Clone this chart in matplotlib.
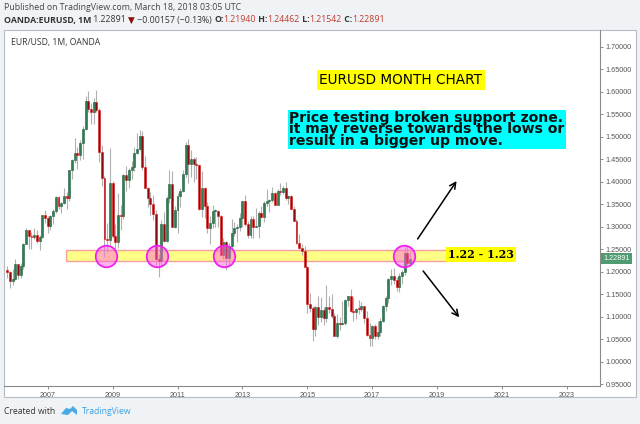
import matplotlib
matplotlib.use('Agg')
import matplotlib.pyplot as plt
import matplotlib.transforms as mtrans
from matplotlib.patches import Rectangle, Polygon
import numpy as np

# monthly EUR/USD candles, Oct 2005 .. Mar 2018
start_year, start_month = 2005, 10
opens = [1.203, 1.199, 1.179,
         1.184, 1.216, 1.192, 1.212, 1.262, 1.292, 1.279, 1.276, 1.281, 1.268, 1.276, 1.325,
         1.320, 1.301, 1.323, 1.335, 1.365, 1.345, 1.353, 1.369, 1.363, 1.427, 1.449, 1.463,
         1.459, 1.486, 1.518, 1.579, 1.561, 1.555, 1.576, 1.560, 1.467, 1.409, 1.273, 1.270,
         1.397, 1.280, 1.267, 1.325, 1.323, 1.415, 1.403, 1.425, 1.433, 1.464, 1.472, 1.501,
         1.433, 1.386, 1.363, 1.351, 1.329, 1.229, 1.223, 1.305, 1.268, 1.363, 1.394, 1.299,
         1.338, 1.369, 1.380, 1.416, 1.481, 1.439, 1.450, 1.439, 1.436, 1.339, 1.385, 1.345,
         1.296, 1.308, 1.334, 1.334, 1.323, 1.237, 1.266, 1.230, 1.257, 1.286, 1.297, 1.299,
         1.319, 1.357, 1.306, 1.282, 1.317, 1.300, 1.301, 1.330, 1.322, 1.352, 1.358, 1.359,
         1.374, 1.349, 1.380, 1.377, 1.387, 1.363, 1.369, 1.339, 1.313, 1.263, 1.253, 1.245,
         1.210, 1.129, 1.119, 1.073, 1.122, 1.099, 1.115, 1.098, 1.121, 1.118, 1.101, 1.057,
         1.086, 1.083, 1.087, 1.138, 1.145, 1.113, 1.110, 1.117, 1.116, 1.124, 1.098, 1.059,
         1.052, 1.080, 1.058, 1.065, 1.090, 1.124, 1.142, 1.184, 1.191, 1.181, 1.165, 1.190,
         1.200, 1.241, 1.2194]
highs = [1.213, 1.201, 1.205,
         1.229, 1.217, 1.220, 1.264, 1.298, 1.293, 1.288, 1.298, 1.292, 1.282, 1.327, 1.336,
         1.324, 1.325, 1.340, 1.368, 1.368, 1.355, 1.385, 1.377, 1.427, 1.450, 1.497, 1.477,
         1.493, 1.524, 1.591, 1.602, 1.575, 1.586, 1.604, 1.563, 1.481, 1.412, 1.308, 1.475,
         1.402, 1.306, 1.374, 1.349, 1.417, 1.434, 1.431, 1.446, 1.478, 1.509, 1.514, 1.512,
         1.458, 1.388, 1.376, 1.370, 1.338, 1.240, 1.315, 1.333, 1.368, 1.425, 1.423, 1.345,
         1.375, 1.386, 1.425, 1.488, 1.494, 1.470, 1.454, 1.454, 1.439, 1.424, 1.388, 1.355,
         1.323, 1.349, 1.339, 1.336, 1.327, 1.274, 1.268, 1.264, 1.317, 1.310, 1.307, 1.331,
         1.358, 1.371, 1.313, 1.324, 1.324, 1.342, 1.334, 1.345, 1.357, 1.383, 1.361, 1.389,
         1.377, 1.383, 1.397, 1.390, 1.399, 1.370, 1.370, 1.345, 1.316, 1.284, 1.261, 1.257,
         1.212, 1.153, 1.124, 1.123, 1.147, 1.144, 1.121, 1.171, 1.146, 1.150, 1.109, 1.106,
         1.100, 1.135, 1.140, 1.146, 1.162, 1.143, 1.119, 1.137, 1.133, 1.124, 1.112, 1.087,
         1.082, 1.083, 1.091, 1.096, 1.127, 1.145, 1.185, 1.207, 1.209, 1.188, 1.196, 1.203,
         1.254, 1.256, 1.2446]
lows = [1.187, 1.164, 1.170,
        1.182, 1.184, 1.187, 1.205, 1.262, 1.250, 1.250, 1.272, 1.264, 1.248, 1.274, 1.309,
        1.285, 1.293, 1.306, 1.331, 1.340, 1.331, 1.350, 1.339, 1.357, 1.405, 1.442, 1.428,
        1.449, 1.451, 1.514, 1.555, 1.528, 1.529, 1.555, 1.443, 1.390, 1.233, 1.243, 1.259,
        1.274, 1.247, 1.253, 1.292, 1.317, 1.380, 1.385, 1.405, 1.424, 1.461, 1.471, 1.425,
        1.386, 1.343, 1.327, 1.314, 1.212, 1.188, 1.212, 1.265, 1.265, 1.353, 1.299, 1.296,
        1.287, 1.343, 1.378, 1.411, 1.397, 1.410, 1.400, 1.405, 1.337, 1.322, 1.319, 1.286,
        1.262, 1.297, 1.300, 1.300, 1.235, 1.229, 1.204, 1.214, 1.252, 1.280, 1.267, 1.291,
        1.300, 1.301, 1.275, 1.274, 1.275, 1.300, 1.275, 1.320, 1.311, 1.347, 1.333, 1.354,
        1.348, 1.350, 1.371, 1.372, 1.360, 1.350, 1.339, 1.313, 1.262, 1.250, 1.236, 1.210,
        1.109, 1.110, 1.046, 1.056, 1.081, 1.088, 1.081, 1.088, 1.109, 1.096, 1.056, 1.052,
        1.071, 1.081, 1.081, 1.124, 1.110, 1.091, 1.095, 1.107, 1.112, 1.085, 1.057, 1.035,
        1.034, 1.050, 1.050, 1.057, 1.088, 1.112, 1.131, 1.170, 1.172, 1.157, 1.155, 1.172,
        1.192, 1.215, 1.2154]
closes = [1.199, 1.179, 1.184,
          1.216, 1.192, 1.212, 1.262, 1.292, 1.279, 1.276, 1.281, 1.268, 1.276, 1.325, 1.320,
          1.301, 1.323, 1.335, 1.365, 1.345, 1.353, 1.369, 1.363, 1.427, 1.449, 1.463, 1.459,
          1.486, 1.518, 1.579, 1.561, 1.555, 1.576, 1.560, 1.467, 1.409, 1.273, 1.270, 1.397,
          1.280, 1.267, 1.325, 1.323, 1.415, 1.403, 1.425, 1.433, 1.464, 1.472, 1.501, 1.433,
          1.386, 1.363, 1.351, 1.329, 1.229, 1.223, 1.305, 1.268, 1.363, 1.394, 1.299, 1.338,
          1.369, 1.380, 1.416, 1.481, 1.439, 1.450, 1.439, 1.436, 1.339, 1.385, 1.345, 1.296,
          1.308, 1.334, 1.334, 1.323, 1.237, 1.266, 1.230, 1.257, 1.286, 1.297, 1.299, 1.319,
          1.357, 1.306, 1.282, 1.317, 1.300, 1.301, 1.330, 1.322, 1.352, 1.358, 1.359, 1.374,
          1.349, 1.380, 1.377, 1.387, 1.363, 1.369, 1.339, 1.313, 1.263, 1.253, 1.245, 1.210,
          1.129, 1.119, 1.073, 1.122, 1.099, 1.115, 1.098, 1.121, 1.118, 1.101, 1.057, 1.086,
          1.083, 1.087, 1.138, 1.145, 1.113, 1.110, 1.117, 1.116, 1.124, 1.098, 1.059, 1.052,
          1.080, 1.058, 1.065, 1.090, 1.124, 1.142, 1.184, 1.191, 1.181, 1.165, 1.190, 1.200,
          1.241, 1.219, 1.22891]

last_price = 1.22891
price_ticks = [0.95, 1.00, 1.05, 1.10, 1.15, 1.20, 1.25, 1.30, 1.35, 1.40,
               1.45, 1.50, 1.55, 1.60, 1.65, 1.70]
year_ticks = [2007, 2009, 2011, 2013, 2015, 2017, 2019, 2021, 2023]

# support zone and touches (decimal year, price)
zone_low, zone_high = 1.2245, 1.2475
zone_start, zone_end = 2007.55, 2019.29
touch_x = [2008.79, 2010.38, 2012.42, 2017.98]
touch_y = [1.2356, 1.2356, 1.2356, 1.2356]
arrow_up = [(2018.40, 1.2727), (2019.60, 1.4015)]
arrow_down = [(2018.57, 1.2016), (2019.68, 1.0987)]

W, H = 640, 424
fig = plt.figure(figsize=(6.4, 4.24), dpi=100)
fig.patch.set_facecolor('#f0f3f6')

# white chart panel behind the axes
panel = Rectangle((4 / W, 1 - 397 / H), 632 / W, 367 / H, transform=fig.transFigure,
                  facecolor='white', edgecolor='#b8bcc2', linewidth=0.8, zorder=-5)
fig.add_artist(panel)

ax = fig.add_axes([4 / W, 1 - 386 / H, 596 / W, 356 / H])
ax.set_zorder(2)
ax.set_facecolor('none')

n = len(closes)
xs = np.array([start_year + (start_month - 1 + i) / 12.0 for i in range(n)])
o = np.array(opens); h = np.array(highs); l = np.array(lows); c = np.array(closes)
up = c >= o

ax.vlines(xs, l, h, color='#b0b0b0', linewidth=0.8, zorder=2)
body = np.where(np.abs(c - o) < 0.002, 0.002, c - o)
ax.bar(xs[up], body[up], bottom=o[up], width=0.06, color='#2f7d55',
       edgecolor='#1d5e3b', linewidth=0.4, zorder=3)
ax.bar(xs[~up], body[~up], bottom=o[~up], width=0.06, color='#8b0a0a',
       edgecolor='#e01818', linewidth=0.4, zorder=3)

# support zone
ax.add_patch(Rectangle((zone_start, zone_low), zone_end - zone_start, zone_high - zone_low,
                       facecolor='#ffff88', edgecolor='#f5a0a0', linewidth=1.0, zorder=1))
ax.plot(touch_x, touch_y, 'o', markersize=15.5, markerfacecolor=(1.0, 0.4, 0.85, 0.5),
        markeredgecolor='#f020f0', markeredgewidth=1.3, zorder=5)

for (x0, y0), (x1, y1) in [arrow_up, arrow_down]:
    ax.annotate('', xy=(x1, y1), xytext=(x0, y0),
                arrowprops=dict(arrowstyle='->', color='black', lw=1.1,
                                mutation_scale=11, shrinkA=0, shrinkB=0), zorder=6)

ax.text(2019.33, 1.238, '1.22 - 1.23', fontsize=8.0, fontweight='bold', family='DejaVu Serif',
        ha='left', va='center', zorder=7,
        bbox=dict(boxstyle='square,pad=0.2', facecolor='#ffff00', edgecolor='none'))
ax.text(2017.887, 1.6258, 'EURUSD MONTH CHART', fontsize=9.8, family='DejaVu Sans',
        ha='center', va='center', zorder=7,
        bbox=dict(boxstyle='square,pad=0.2', facecolor='#ffff00', edgecolor='none'))
ax.text(2014.45, 1.516,
        'Price testing broken support zone.\nit may reverse towards the lows or\nresult in a bigger up move.',
        fontsize=10.05, fontweight='bold', family='DejaVu Sans', linespacing=0.78,
        ha='left', va='center', color='#111111', zorder=7,
        bbox=dict(boxstyle='square,pad=0.08', facecolor='#00ffff', edgecolor='none'))

ax.set_xlim(2005.653, 2024.02)
ax.set_ylim(0.946, 1.7371)
ax.yaxis.tick_right()
ax.set_yticks(price_ticks)
ax.set_yticklabels(['%.5f' % p for p in price_ticks])
ax.set_xticks(year_ticks)
ax.set_xticklabels([str(y) for y in year_ticks])
ax.tick_params(axis='both', labelsize=5.2, colors='#7a7a7a', labelcolor='#555555',
               length=2.5, width=0.6, pad=1.5)
for lab in ax.get_xticklabels() + ax.get_yticklabels():
    lab.set_family('Liberation Sans')
for side in ['top', 'left']:
    ax.spines[side].set_visible(False)
for side in ['right', 'bottom']:
    ax.spines[side].set_color('#8a8a8a')
    ax.spines[side].set_linewidth(0.8)

# last price tag
tr = mtrans.blended_transform_factory(ax.transAxes, ax.transData)
ax.text(1.006, last_price, '%.5f' % last_price, transform=tr, fontsize=5.2, color='white',
        family='Liberation Sans', ha='left', va='center', zorder=8, clip_on=False,
        bbox=dict(boxstyle='square,pad=0.3', facecolor='#4f9b72', edgecolor='none'))

ax.text(0.011, 0.965, 'EUR/USD, 1M, OANDA', transform=ax.transAxes, fontsize=6.2,
        family='Open Sans', color='#333333', ha='left', va='center')

# header lines
renderer = fig.canvas.get_renderer()


def draw_parts(x_px, y_px, parts, size):
    x = x_px
    for txt, color, weight in parts:
        t = fig.text(x / W, 1 - y_px / H, txt, fontsize=size, color=color, fontweight=weight,
                     family=['Open Sans', 'DejaVu Sans'], ha='left', va='center')
        x += t.get_window_extent(renderer).width


dark = '#333333'
red = '#c0392b'
draw_parts(4, 7.3, [('Published on TradingView.com, March 18, 2018 03:05 UTC', '#444444', 'normal')], 6.3)
draw_parts(4, 20, [('OANDA:EURUSD, 1M', dark, 'bold'), (' 1.22891 ', dark, 'normal'),
                   ('\u25bc', '#8b0a0a', 'normal'), (' \u22120.00157 (\u22120.13%) ', dark, 'normal'),
                   ('O:', dark, 'bold'), ('1.21940', red, 'normal'),
                   (' H:', dark, 'bold'), ('1.24462', red, 'normal'),
                   (' L:', dark, 'bold'), ('1.21542', red, 'normal'),
                   (' C:', dark, 'bold'), ('1.22891', red, 'normal')], 6.3)

# footer
fig.text(4 / W, 1 - 412 / H, 'Created with', fontsize=6.2, family='Open Sans', color='#333333',
         ha='left', va='center')
fig.add_artist(Polygon([(61 / W, 1 - 414 / H), (66 / W, 1 - 408 / H), (70 / W, 1 - 409 / H),
                        (73 / W, 1 - 406 / H), (77 / W, 1 - 410 / H), (77 / W, 1 - 415 / H),
                        (72 / W, 1 - 411 / H), (68 / W, 1 - 415 / H)],
                       closed=True, transform=fig.transFigure, facecolor='#48a9e6',
                       edgecolor='none'))
fig.text(82 / W, 1 - 412 / H, 'TradingView', fontsize=6.2, family='Open Sans', color='#3a9ee0',
         ha='left', va='center')

fig.savefig('out.png', dpi=100, facecolor=fig.get_facecolor())
